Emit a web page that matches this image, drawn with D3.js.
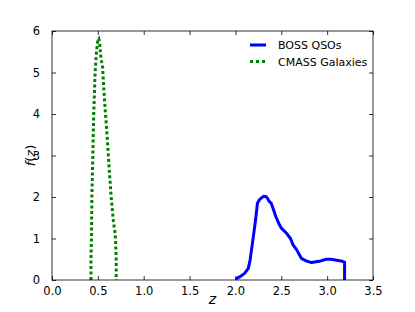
<!DOCTYPE html>
<html>
<head>
<meta charset="utf-8">
<script src="https://cdn.jsdelivr.net/npm/d3@7"></script>
<style>
  body { margin: 0; background: #fff; }
  text { font-family: "DejaVu Sans", sans-serif; }
</style>
</head>
<body>
<div id="chart"></div>
<script>
// redshift distributions
var qsoZ = [2.00, 2.05, 2.10, 2.14, 2.16, 2.19, 2.22, 2.24, 2.26, 2.28, 2.31, 2.34, 2.37,
            2.39, 2.41, 2.44, 2.48, 2.50, 2.56, 2.60, 2.63, 2.67, 2.72, 2.77, 2.83, 2.88,
            2.93, 2.99, 3.04, 3.09, 3.15, 3.19, 3.19];
var qsoF = [0.02, 0.08, 0.16, 0.28, 0.48, 0.96, 1.45, 1.85, 1.93, 1.97, 2.02, 2.00, 1.89,
            1.85, 1.73, 1.53, 1.33, 1.25, 1.12, 1.00, 0.84, 0.72, 0.52, 0.46, 0.42, 0.44,
            0.46, 0.50, 0.50, 0.48, 0.46, 0.43, 0.00];

var galZ = [0.425, 0.425, 0.43, 0.435, 0.445, 0.455, 0.47, 0.485, 0.50, 0.51, 0.52, 0.535,
            0.55, 0.565, 0.58, 0.60, 0.62, 0.645, 0.67, 0.69, 0.70, 0.70];
var galF = [0.0, 0.5, 1.0, 2.0, 3.0, 4.0, 5.0, 5.5, 5.8, 5.82, 5.7, 5.3,
            5.2, 4.6, 4.1, 3.5, 2.8, 2.0, 1.4, 1.1, 0.5, 0.0];

var xTicks = [0, 0.5, 1, 1.5, 2, 2.5, 3, 3.5];
var yTicks = [0, 1, 2, 3, 4, 5, 6];

var seriesNames = ['BOSS QSOs', 'CMASS Galaxies'];

(function () {
    var W = 415, H = 312;
    var m = { left: 52, right: 42, top: 31, bottom: 32 };

    var svg = d3.select('#chart').append('svg')
        .attr('width', W)
        .attr('height', H);

    var x = d3.scaleLinear().domain([0, 3.5]).range([m.left, W - m.right]);
    var y = d3.scaleLinear().domain([0, 6]).range([H - m.bottom, m.top]);

    // ticks on all four sides, pointing inward
    var tl = 4;
    function fmt(d) { return d3.format('.1f')(d); }

    svg.append('g')
        .attr('transform', 'translate(0,' + y(0) + ')')
        .call(d3.axisBottom(x).tickValues(xTicks).tickSize(-tl).tickPadding(7).tickFormat(fmt));
    svg.append('g')
        .attr('transform', 'translate(0,' + y(6) + ')')
        .call(d3.axisTop(x).tickValues(xTicks).tickSize(-tl).tickFormat(''));
    svg.append('g')
        .attr('transform', 'translate(' + x(0) + ',0)')
        .call(d3.axisLeft(y).tickValues(yTicks).tickSize(-tl).tickPadding(12).tickFormat(d3.format('d')));
    svg.append('g')
        .attr('transform', 'translate(' + x(3.5) + ',0)')
        .call(d3.axisRight(y).tickValues(yTicks).tickSize(-tl).tickFormat(''));

    svg.selectAll('.domain').remove();
    svg.selectAll('.tick line').attr('stroke', '#000').attr('stroke-width', 0.8);
    svg.selectAll('.tick text').attr('font-size', 11.5).attr('fill', '#000');

    var line = d3.line()
        .x(function (d) { return x(d[0]); })
        .y(function (d) { return y(d[1]); });

    var qso = d3.zip(qsoZ, qsoF);
    var gal = d3.zip(galZ, galF);

    svg.append('path')
        .datum(qso)
        .attr('d', line)
        .attr('fill', 'none')
        .attr('stroke', '#0000ff')
        .attr('stroke-width', 3)
        .attr('stroke-linejoin', 'round');

    svg.append('path')
        .datum(gal)
        .attr('d', line)
        .attr('fill', 'none')
        .attr('stroke', '#008000')
        .attr('stroke-width', 3)
        .attr('stroke-dasharray', '3,2.5');

    // frame
    svg.append('rect')
        .attr('x', x(0)).attr('y', y(6))
        .attr('width', x(3.5) - x(0)).attr('height', y(0) - y(6))
        .attr('fill', 'none')
        .attr('stroke', '#000')
        .attr('stroke-width', 0.8);

    // legend
    var styles = [
        { stroke: '#0000ff', dash: null },
        { stroke: '#008000', dash: '3,3' }
    ];
    var lg = svg.append('g');
    seriesNames.forEach(function (name, i) {
        var ly = 45 + i * 16.5;
        lg.append('line')
            .attr('x1', 250).attr('x2', 266)
            .attr('y1', ly).attr('y2', ly)
            .attr('stroke', styles[i].stroke)
            .attr('stroke-width', 3)
            .attr('stroke-dasharray', styles[i].dash);
        lg.append('text')
            .attr('x', 278).attr('y', ly + 4)
            .attr('font-size', 11)
            .text(name);
    });

    // axis labels
    svg.append('text')
        .attr('x', (x(0) + x(3.5)) / 2).attr('y', 304)
        .attr('text-anchor', 'middle')
        .attr('font-size', 14)
        .attr('font-style', 'italic')
        .text('z');

    var fz = svg.append('text')
        .attr('transform', 'translate(35,' + ((y(0) + y(6)) / 2) + ') rotate(-90)')
        .attr('text-anchor', 'middle')
        .attr('font-size', 13);
    [['f', 'italic'], ['(', 'normal'], ['z', 'italic'], [')', 'normal']].forEach(function (p) {
        fz.append('tspan').attr('font-style', p[1]).text(p[0]);
    });
})();
</script>
</body>
</html>
